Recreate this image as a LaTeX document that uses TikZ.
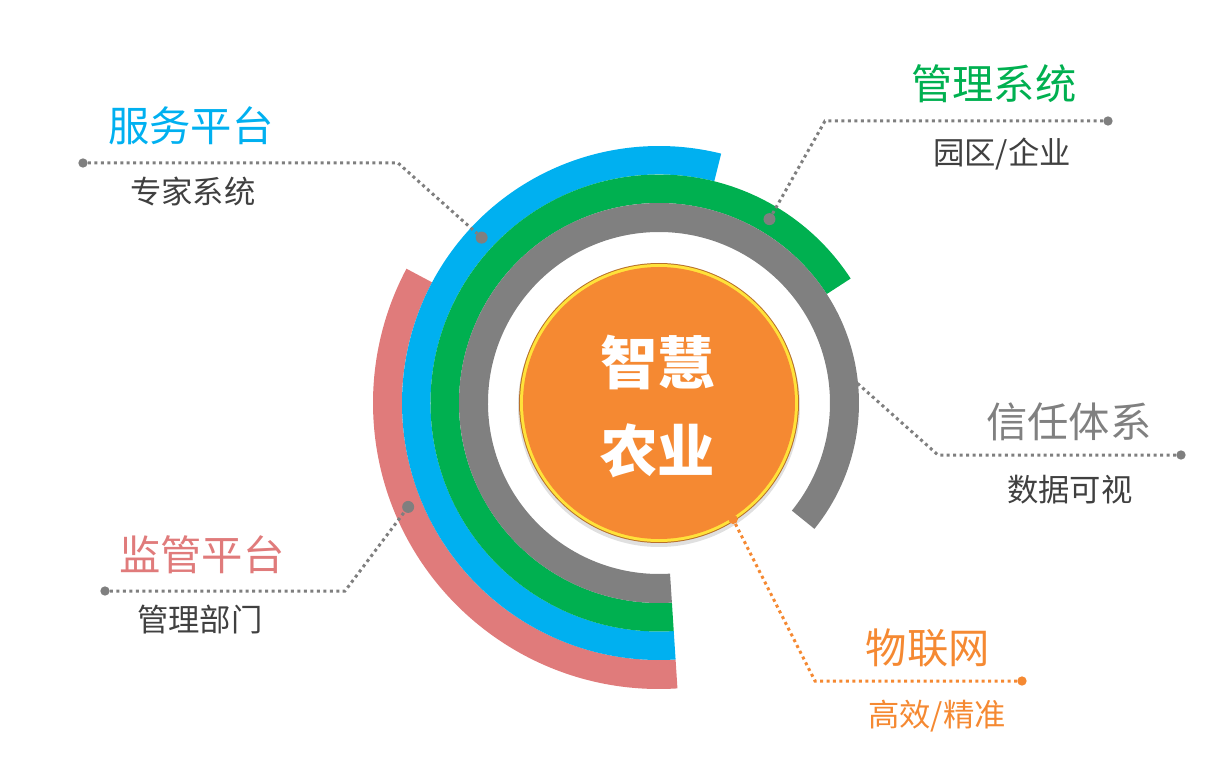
\documentclass[tikz,border=0pt]{standalone}
\usepackage{fontspec}
\setmainfont{Noto Sans CJK SC}
\usetikzlibrary{positioning}
\definecolor{ink}     {HTML}{404040}
\definecolor{lead}    {HTML}{7F7F7F}
\definecolor{ringGray}{HTML}{808080}
\definecolor{ringGrn} {HTML}{00B050}
\definecolor{ringBlue}{HTML}{00B0F0}
\definecolor{ringRed} {HTML}{E07B7B}
\definecolor{core}    {HTML}{F58932}
\definecolor{coreRim} {HTML}{FFE23A}
\definecolor{coreEdge}{HTML}{B8702A}

\begin{document}
\begin{tikzpicture}[x=0.75pt,y=0.75pt,
    leader/.style={line width=2.25pt, dash pattern=on 2.25pt off 2.6pt},
    enddot/.style={circle, fill, inner sep=0pt, minimum size=7pt},
    ringdot/.style={circle, fill, inner sep=0pt, minimum size=9pt},
    title/.style={font=\fontsize{31}{31}\selectfont},
    sub/.style={text=ink, font=\fontsize{23.5}{24}\selectfont}]
        \useasboundingbox (-659,-354) rectangle (552,403);
        \def\cut{273.7}
        % rings
        \fill[ringRed]  (152:257) arc[start angle=152, end angle=\cut, radius=257]
          -- (\cut:286) arc[start angle=\cut, end angle=152, radius=286] -- cycle;
        \fill[ringBlue] (76:228.5) arc[start angle=76, end angle=\cut, radius=228.5]
          -- (\cut:257) arc[start angle=\cut, end angle=76, radius=257] -- cycle;
        \fill[ringGrn]  (33:200) arc[start angle=33, end angle=\cut, radius=200]
          -- (\cut:228.5) arc[start angle=\cut, end angle=33, radius=228.5] -- cycle;
        \fill[ringGray] (-39:171) arc[start angle=-39, end angle=\cut, radius=171]
          -- (\cut:200) arc[start angle=\cut, end angle=-39, radius=200] -- cycle;
        % core
        \fill[black, opacity=0.12] (0,-3) circle (141);
        \fill[coreEdge] (0,0) circle (140);
        \fill[coreRim]  (0,0) circle (139);
        \node[circle, fill=core, inner sep=0pt, minimum size=204pt] (core) at (0,0) {};
        \node[text=white, font=\fontsize{43}{66}\selectfont\bfseries, align=center]
          (coretxt) at (-1,-4) {智慧\\农业};
        % labels
        \node[title, text=ringBlue] (svc) at (-468,277) {服务平台};
        \node[sub] (svcsub) at (-466,211) {专家系统};
        \node[title, text=ringGrn] (mgt) at (335,319) {管理系统};
        \node[sub] (mgtsub) at (343,249) {园区/企业};
        \node[title, text=ringGray] (trust) at (410,-19) {信任体系};
        \node[sub] (trustsub) at (411,-87) {数据可视};
        \node[title, text=ringRed] (sup) at (-457,-152) {监管平台};
        \node[sub] (supsub) at (-459,-217) {管理部门};
        \node[title, text=core] (iot) at (269,-245) {物联网};
        \node[sub, text=core] (iotsub) at (278,-313) {高效/精准};
        % leader ends and bends
        \node[enddot, lead] (svcend) at (-576,240) {};
        \coordinate (svcbend) at (-261,240);
        \node[ringdot, lead] (svcring) at (137:242.5) {};
        \node[enddot, lead] (mgtend) at (449,282) {};
        \coordinate (mgtbend) at (166,282);
        \node[ringdot, lead] (mgtring) at (59:214.5) {};
        \node[enddot, lead] (trustend) at (522,-52) {};
        \coordinate (trustbend) at (279,-52);
        \coordinate (trustring) at (5.8:199);
        \node[enddot, lead] (supend) at (-554,-188) {};
        \coordinate (supbend) at (-314,-188);
        \node[ringdot, lead] (supring) at (202.5:271.5) {};
        \node[enddot, core] (iotend) at (363,-278) {};
        \coordinate (iotbend) at (156,-278);
        \node[ringdot, core, minimum size=7pt] (iotring) at (-57.5:138) {};
        % leaders
        \draw[leader, lead] (svcend) -- (svcbend) -- (svcring);
        \draw[leader, lead] (mgtend) -- (mgtbend) -- (mgtring);
        \draw[leader, lead] (trustend) -- (trustbend) -- (trustring);
        \draw[leader, lead] (supend) -- (supbend) -- (supring);
        \draw[leader, core] (iotend) -- (iotbend) -- (iotring);
      \end{tikzpicture}
\end{document}
